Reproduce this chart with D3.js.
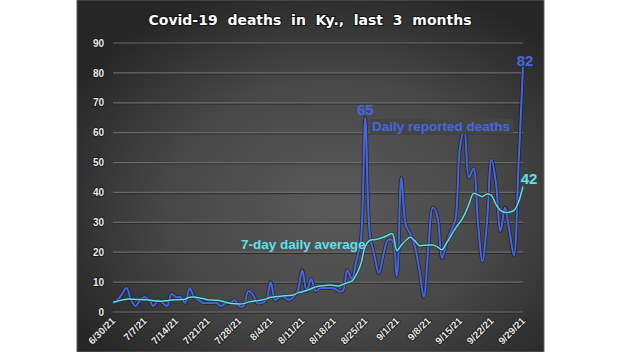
<!DOCTYPE html>
<html>
<head>
<meta charset="utf-8">
<script src="https://cdnjs.cloudflare.com/ajax/libs/d3/7.8.5/d3.min.js"></script>
<style>
    body { margin: 0; background: #fff; }
    svg { display: block; }
</style>
</head>
<body>
<svg id="chart"></svg>
<script>
//Daily reported deaths, one value per day from 6/30/21 to 9/29/21.
var daily = [
    3, 4, 6, 8, 4, 2, 4, 5, 4, 2,
    4, 3, 2, 6, 5, 5, 3, 8, 5, 4,
    3, 3, 3, 3, 2, 3, 3, 4, 2, 2,
    7, 6, 3, 3, 4, 10, 4, 5, 5, 4,
    5, 7, 14, 7, 11, 7, 8, 8, 8, 8,
    7, 7, 14, 11, 17, 24, 65, 26, 19, 13,
    19, 24, 24, 12, 45, 29, 26, 22, 14, 5,
    22, 35, 32, 18, 23, 27, 31, 55, 61, 45,
    48, 30, 17, 30, 51, 43, 27, 35, 27, 19,
    49, 82
];

//7-day daily average.
var average = [
    3.3, 3.6, 4.0, 4.3, 4.3, 4.2, 4.2, 4.1, 4.0, 3.8,
    3.6, 3.6, 3.8, 4.0, 4.1, 4.2, 4.3, 4.9, 5.0, 4.8,
    4.5, 4.1, 4.0, 3.9, 3.7, 3.3, 2.9, 2.8, 2.7, 2.8,
    3.3, 3.6, 3.8, 4.0, 4.4, 4.9, 5.1, 5.3, 5.4, 5.5,
    5.7, 6.4, 6.8, 7.2, 7.8, 8.4, 8.7, 8.9, 9.0, 8.9,
    8.7, 9.2, 9.8, 10.3, 12.5, 16.0, 22.0, 24.0, 24.2, 24.5,
    25.0, 25.7, 26.2, 20.5, 22.4, 24.0, 25.0, 23.8, 22.2, 22.3,
    22.4, 22.4, 21.8, 20.8, 23.0, 25.5, 28.0, 30.0, 32.5, 36.0,
    39.7, 39.2, 38.6, 39.5, 39.0, 36.0, 34.0, 33.3, 33.4, 34.0,
    36.8, 42.0
];

var yTicks = [0, 10, 20, 30, 40, 50, 60, 70, 80, 90];
var startDate = new Date(2021, 5, 30);
var dates = daily.map(function (d, i) { return d3.timeDay.offset(startDate, i); });
var xTicks = dates.filter(function (d, i) { return i % 7 === 0; });

var title = "Covid-19  deaths  in  Ky.,  last  3  months";

var width = 622, height = 352;

var svg = d3.select("#chart")
    .attr("width", width)
    .attr("height", height);

//Dark panel with a soft radial light in the middle.
var defs = svg.append("defs");
var grad = defs.append("radialGradient")
    .attr("id", "bg")
    .attr("cx", "55%").attr("cy", "58%").attr("r", "65%");
grad.append("stop").attr("offset", "0%").attr("stop-color", "#5a5a5a");
grad.append("stop").attr("offset", "55%").attr("stop-color", "#474747");
grad.append("stop").attr("offset", "100%").attr("stop-color", "#262626");

svg.append("rect")
    .attr("x", 77).attr("y", 0)
    .attr("width", 467).attr("height", height)
    .attr("fill", "url(#bg)")
    .attr("stroke", "#5e5e5e")
    .attr("stroke-width", 1);

var x = d3.scaleTime()
    .domain([dates[0], dates[dates.length - 1]])
    .range([113, 523]);

var y = d3.scaleLinear()
    .domain([0, 90])
    .range([312, 43]);

//Gridlines, a light line with a dark shadow.
var grid = svg.append("g");
grid.selectAll(".shadow")
    .data(yTicks).enter().append("line")
    .attr("x1", 113).attr("x2", 523)
    .attr("y1", function (d) { return y(d) + 1.2; })
    .attr("y2", function (d) { return y(d) + 1.2; })
    .attr("stroke", "#2a2a2a").attr("stroke-width", 1);
grid.selectAll(".light")
    .data(yTicks).enter().append("line")
    .attr("x1", 113).attr("x2", 523)
    .attr("y1", function (d) { return y(d); })
    .attr("y2", function (d) { return y(d); })
    .attr("stroke", "#6b6b6b").attr("stroke-width", 1.2);

//Y axis labels.
var yAxis = d3.axisLeft(y).tickValues(yTicks).tickSize(0).tickPadding(0);
var yg = svg.append("g")
    .attr("transform", "translate(104,0)")
    .call(yAxis);
yg.select(".domain").remove();
yg.selectAll("text")
    .attr("font-family", "Liberation Sans, Arial, sans-serif")
    .attr("font-size", "10px")
    .attr("font-weight", "bold")
    .attr("fill", "#eeeeee")
    .attr("stroke", "#151515")
    .attr("stroke-width", 1.6)
    .attr("paint-order", "stroke");

//X axis labels, rotated.
var xAxis = d3.axisBottom(x)
    .tickValues(xTicks)
    .tickFormat(d3.timeFormat("%-m/%-d/%y"))
    .tickSize(0).tickPadding(0);
var xg = svg.append("g")
    .attr("transform", "translate(0,319)")
    .call(xAxis);
xg.select(".domain").remove();
xg.selectAll("text")
    .attr("font-family", "Liberation Sans, Arial, sans-serif")
    .attr("font-size", "10px")
    .attr("font-weight", "bold")
    .attr("fill", "#e8e8e8")
    .attr("stroke", "#151515")
    .attr("stroke-width", 1.6)
    .attr("paint-order", "stroke")
    .attr("text-anchor", "end")
    .attr("dy", "0.35em")
    .attr("transform", "rotate(-45)");

//Lines.
var line = function (values) {
    return d3.line()
        .x(function (d, i) { return x(dates[i]); })
        .y(function (d) { return y(d); })
        .curve(d3.curveCatmullRom)(values);
};

svg.append("path")
    .attr("d", line(daily))
    .attr("fill", "none")
    .attr("stroke", "#15182a")
    .attr("stroke-opacity", 0.7)
    .attr("stroke-width", 3.6);
svg.append("path")
    .attr("d", line(daily))
    .attr("fill", "none")
    .attr("stroke", "#4766e0")
    .attr("stroke-width", 2);

svg.append("path")
    .attr("d", line(average))
    .attr("fill", "none")
    .attr("stroke", "#1a2a2a")
    .attr("stroke-opacity", 0.6)
    .attr("stroke-width", 3);
svg.append("path")
    .attr("d", line(average))
    .attr("fill", "none")
    .attr("stroke", "#5fe2ea")
    .attr("stroke-width", 1.5);

//Labels on the lines.
var labelFont = "Liberation Sans, Arial, sans-serif";

svg.append("rect")
    .attr("x", 370).attr("y", 119)
    .attr("width", 143).attr("height", 15)
    .attr("fill", "#454545");
svg.append("text")
    .attr("x", 372).attr("y", 131)
    .attr("font-family", labelFont)
    .attr("font-size", "13.5px")
    .attr("font-weight", "bold")
    .attr("fill", "#4766e0")
    .text("Daily reported deaths");

svg.append("text")
    .attr("x", 241).attr("y", 249)
    .attr("font-family", labelFont)
    .attr("font-size", "13.5px")
    .attr("font-weight", "bold")
    .attr("fill", "#5fe2ea")
    .text("7-day daily average");

svg.append("text")
    .attr("x", x(dates[56])).attr("y", 115)
    .attr("text-anchor", "middle")
    .attr("font-family", labelFont)
    .attr("font-size", "15px")
    .attr("font-weight", "bold")
    .attr("fill", "#4766e0")
    .text(daily[56]);

svg.append("text")
    .attr("x", x(dates[91]) + 2).attr("y", 66)
    .attr("text-anchor", "middle")
    .attr("font-family", labelFont)
    .attr("font-size", "15px")
    .attr("font-weight", "bold")
    .attr("fill", "#4766e0")
    .text(daily[91]);

svg.append("text")
    .attr("x", x(dates[91]) + 6).attr("y", 184)
    .attr("text-anchor", "middle")
    .attr("font-family", labelFont)
    .attr("font-size", "15px")
    .attr("font-weight", "bold")
    .attr("fill", "#5fe2ea")
    .text(average[91]);

//Title.
svg.append("text")
    .attr("x", 310).attr("y", 25)
    .attr("text-anchor", "middle")
    .attr("font-family", "DejaVu Sans, Verdana, sans-serif")
    .attr("font-size", "14px")
    .attr("font-weight", "bold")
    .attr("fill", "#ffffff")
    .attr("stroke", "#111111")
    .attr("stroke-width", 2)
    .attr("paint-order", "stroke")
    .style("white-space", "pre")
    .text(title);
</script>
</body>
</html>
